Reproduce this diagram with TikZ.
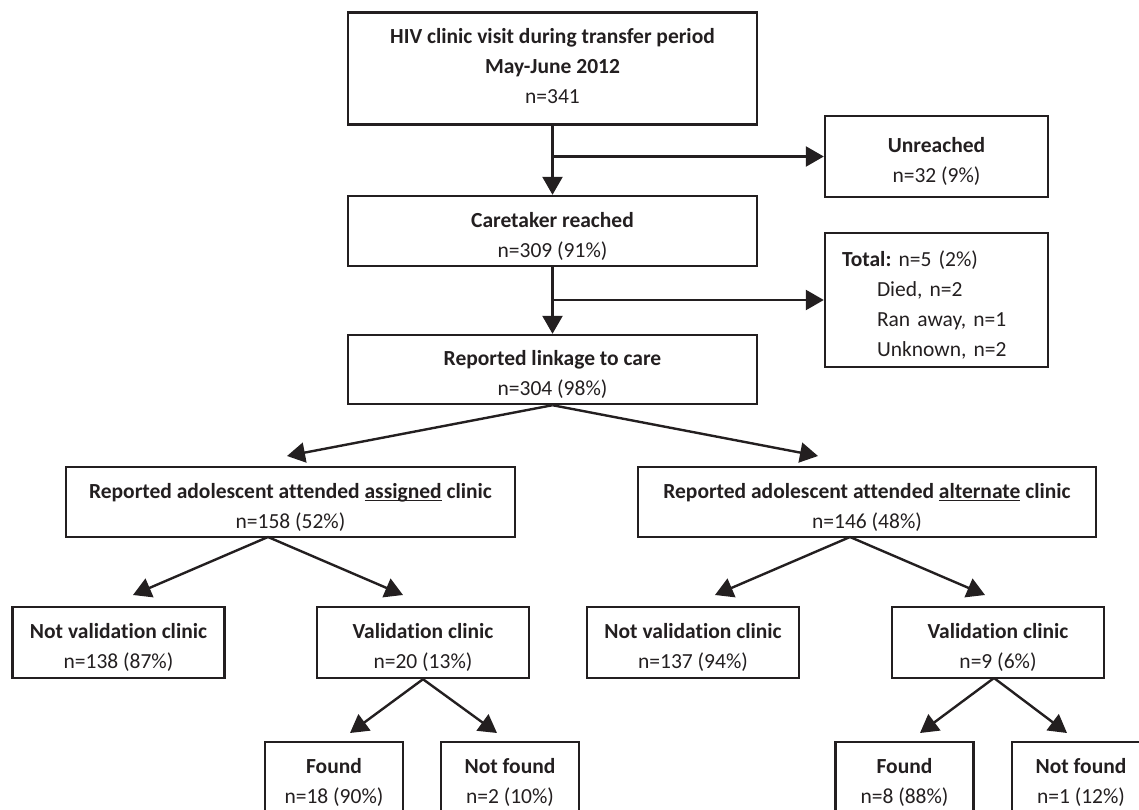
\documentclass[tikz,border=0pt]{standalone}
\usepackage{fontspec}
\setmainfont{Carlito}[RawFeature={-liga}]
\usetikzlibrary{arrows.meta}
\definecolor{ink}{RGB}{35,31,32}
\newsavebox\ulbox
\newcommand\myul[1]{\sbox\ulbox{#1}\rlap{\rule[-3.4pt]{\wd\ulbox}{1.6pt}}\usebox\ulbox}
\newcommand\ls{\rule[-2pt]{0pt}{27pt}}
\frenchspacing
\begin{document}
\begin{tikzpicture}[x=1pt,y=-1pt,
  box/.style={draw=ink, line width=2.4pt, rectangle, inner sep=0pt, align=center,
    text=ink, font=\fontsize{21.5}{30}\selectfont\frenchspacing},
  wide/.style={minimum width=409pt, minimum height=70pt},
  side/.style={minimum width=223pt},
  mid/.style={minimum width=212pt, minimum height=71pt},
  small/.style={minimum width=138pt, minimum height=70pt},
  arr/.style={draw=ink, line width=2.4pt, -{Triangle[length=18pt,width=20pt]}},
]
\useasboundingbox (0,0) rectangle (1139,810);
% main column
\node[box, wide, minimum height=112pt] (top) at (552.5,68.5)
  {\textbf{HIV clinic visit during transfer period}\ls\\ \textbf{May-June 2012}\ls\\ n=341\rule[-14pt]{0pt}{22pt}};
\node[box, wide] (care) at (552.5,231) {\textbf{Caretaker reached}\ls\\ n=309 (91\%)\ls};
\node[box, wide, minimum height=69pt] (link) at (552.5,369.5) {\textbf{Reported linkage to care}\ls\\ n=304 (98\%)\ls};
% side boxes
\node[box, side, minimum height=81pt] (unreach) at (936.5,156.5) {\textbf{Unreached}\ls\\ n=32 (9\%)\ls};
\node[box, side, minimum height=134pt, text width=189pt, inner xsep=17pt, align=left] (total) at (936.5,300)
  {\textbf{Total:} n=5 (2\%)\ls\\ \hspace*{35pt}Died, n=2\ls\\ \hspace*{35pt}Ran away, n=1\ls\\ \hspace*{35pt}Unknown, n=2\ls};
% second level
\node[box, minimum width=449pt, minimum height=70pt] (assigned) at (290.5,502)
  {\textbf{Reported adolescent attended \myul{assigned} clinic}\ls\\ n=158 (52\%)\ls};
\node[box, minimum width=458pt, minimum height=70pt] (alternate) at (867,502)
  {\textbf{Reported adolescent attended \myul{alternate} clinic}\ls\\ n=146 (48\%)\ls};
% third level
\node[box, mid] (nv1) at (118.5,642.5) {\textbf{Not validation clinic}\ls\\ n=138 (87\%)\ls};
\node[box, mid] (v1) at (423,642.5) {\textbf{Validation clinic}\ls\\ n=20 (13\%)\ls};
\node[box, mid] (nv2) at (693,642.5) {\textbf{Not validation clinic}\ls\\ n=137 (94\%)\ls};
\node[box, mid] (v2) at (998,642.5) {\textbf{Validation clinic}\ls\\ n=9 (6\%)\ls};
% fourth level
\node[box, small] (f1) at (334,777) {\textbf{Found}\ls\\ n=18 (90\%)\ls};
\node[box, small] (nf1) at (510,777) {\textbf{Not found}\ls\\ n=2 (10\%)\ls};
\node[box, small] (f2) at (904.5,777) {\textbf{Found}\ls\\ n=8 (88\%)\ls};
\node[box, small] (nf2) at (1081,777) {\textbf{Not found}\ls\\ n=1 (12\%)\ls};
% connector points
\coordinate (tA) at (287,456);
\coordinate (tB) at (818,456);
\coordinate (apA) at (268,537);
\coordinate (apB) at (850,537);
\coordinate (tnv1) at (133,595);
\coordinate (tv1) at (403,595);
\coordinate (tnv2) at (715,595);
\coordinate (tv2) at (985,595);
\coordinate (apV2) at (994,678);
\coordinate (tf1) at (350,733);
\coordinate (tnf1) at (497,733);
\coordinate (tf2) at (920,733);
\coordinate (tnf2) at (1067,733);
% connectors
\draw[arr] (top.south) -- (care.north);
\draw[arr] (top.south |- unreach.west) -- (unreach.west);
\draw[arr] (care.south) -- (link.north);
\draw[arr] (care.south |- total.west) -- (total.west);
\draw[arr] (link.south) -- (tA);
\draw[arr] (link.south) -- (tB);
\draw[arr] (apA) -- (tnv1);
\draw[arr] (apA) -- (tv1);
\draw[arr] (apB) -- (tnv2);
\draw[arr] (apB) -- (tv2);
\draw[arr] (v1.south) -- (tf1);
\draw[arr] (v1.south) -- (tnf1);
\draw[arr] (apV2) -- (tf2);
\draw[arr] (apV2) -- (tnf2);
\end{tikzpicture}
\end{document}
